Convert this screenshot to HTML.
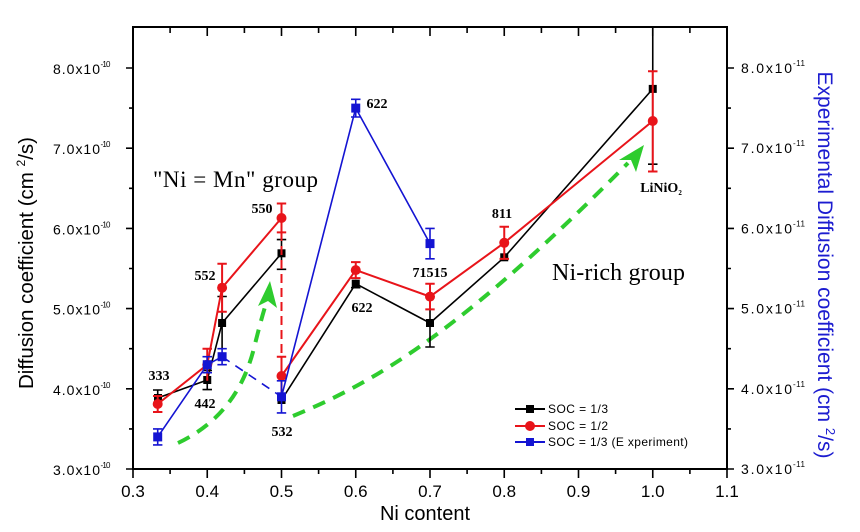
<!DOCTYPE html>
<html><head><meta charset="utf-8"><style>
html,body{margin:0;padding:0;background:#fff;}
svg{display:block;}
</style></head><body>
<svg width="860" height="532" viewBox="0 0 860 532" xmlns="http://www.w3.org/2000/svg">
<rect width="860" height="532" fill="#fff"/>
<!-- green arrows -->
<g stroke="#2ecc2e" stroke-width="4" fill="none" stroke-dasharray="13,9">
<path d="M178,443 C222,422 244,388 254,348 S265,308 267,300"/>
<path d="M293,416 C375,382 460,333 628,163"/>
</g>
<g fill="#2ecc2e">
<polygon points="270,281 258,306 268,301 277,308"/>
<polygon points="644,145 619,160 631,160 636,172"/>
</g>
<!-- frame -->
<rect x="133" y="27" width="594" height="442" fill="none" stroke="#000" stroke-width="2"/>
<g stroke="#000" stroke-width="1.6">
<!-- top ticks major -->
<path d="M133,27V36M207.25,27V36M281.5,27V36M355.75,27V36M430,27V36M504.25,27V36M578.5,27V36M652.75,27V36M727,27V36"/>
<path d="M170.1,27V33M244.4,27V33M318.6,27V33M392.9,27V33M467.1,27V33M541.4,27V33M615.6,27V33M689.9,27V33"/>
<!-- bottom -->
<path d="M133,469V478M207.25,469V478M281.5,469V478M355.75,469V478M430,469V478M504.25,469V478M578.5,469V478M652.75,469V478M727,469V478"/>
<path d="M170.1,469V474M244.4,469V474M318.6,469V474M392.9,469V474M467.1,469V474M541.4,469V474M615.6,469V474M689.9,469V474"/>
<!-- left -->
<path d="M133,469H126M133,388.8H126M133,308.6H126M133,228.4H126M133,148.2H126M133,68H126"/>
<path d="M133,428.9H129M133,348.7H129M133,268.5H129M133,188.3H129M133,108.1H129"/>
<!-- right -->
<path d="M727,469H734M727,388.8H734M727,308.6H734M727,228.4H734M727,148.2H734M727,68H734"/>
<path d="M727,428.9H731M727,348.7H731M727,268.5H731M727,188.3H731M727,108.1H731"/>
</g>
<!-- x tick labels -->
<g font-family="Liberation Sans, Arial, sans-serif" font-size="17" fill="#000" text-anchor="middle">
<text x="133" y="497">0.3</text><text x="207.25" y="497">0.4</text><text x="281.5" y="497">0.5</text>
<text x="355.75" y="497">0.6</text><text x="430" y="497">0.7</text><text x="504.25" y="497">0.8</text>
<text x="578.5" y="497">0.9</text><text x="652.75" y="497">1.0</text><text x="727" y="497">1.1</text>
</g>
<!-- left labels -->
<g font-family="Liberation Sans, Arial, sans-serif" fill="#000">
<g font-size="14">
<text x="53" y="475" textLength="47">3.0x10</text>
<text x="53" y="394.8" textLength="47">4.0x10</text>
<text x="53" y="314.6" textLength="47">5.0x10</text>
<text x="53" y="234.4" textLength="47">6.0x10</text>
<text x="53" y="154.2" textLength="47">7.0x10</text>
<text x="53" y="74" textLength="47">8.0x10</text>
</g>
<g font-size="8">
<text x="100.5" y="468" textLength="10">-10</text>
<text x="100.5" y="387.8" textLength="10">-10</text>
<text x="100.5" y="307.6" textLength="10">-10</text>
<text x="100.5" y="227.4" textLength="10">-10</text>
<text x="100.5" y="147.2" textLength="10">-10</text>
<text x="100.5" y="67" textLength="10">-10</text>
</g>
<g font-size="14">
<text x="741" y="474" textLength="51">3.0x10</text>
<text x="741" y="393.8" textLength="51">4.0x10</text>
<text x="741" y="313.6" textLength="51">5.0x10</text>
<text x="741" y="233.4" textLength="51">6.0x10</text>
<text x="741" y="153.2" textLength="51">7.0x10</text>
<text x="741" y="73" textLength="51">8.0x10</text>
</g>
<g font-size="8">
<text x="793" y="467" textLength="12">-11</text>
<text x="793" y="386.8" textLength="12">-11</text>
<text x="793" y="306.6" textLength="12">-11</text>
<text x="793" y="226.4" textLength="12">-11</text>
<text x="793" y="146.2" textLength="12">-11</text>
<text x="793" y="66" textLength="12">-11</text>
</g>
</g>
<!-- axis titles -->
<text x="425" y="520" font-family="Liberation Sans, Arial, sans-serif" font-size="20" text-anchor="middle">Ni content</text>
<text transform="translate(33,263) rotate(-90)" font-family="Liberation Sans, Arial, sans-serif" font-size="20.5" text-anchor="middle">Diffusion coefficient (cm <tspan font-size="12" dy="-8">2</tspan><tspan dy="8">/s)</tspan></text>
<text transform="translate(818,265) rotate(90)" font-family="Liberation Sans, Arial, sans-serif" font-size="21" fill="#1c1cd0" text-anchor="middle">Experimental Diffusion coefficient (cm <tspan font-size="13" dy="-8">2</tspan><tspan dy="8">/s)</tspan></text>

<!-- black series -->
<g stroke="#000" stroke-width="1.6" fill="none">
<polyline points="157.7,398 207.25,380 222.1,323 281.5,253.3"/>
<polyline points="281.5,400 355.75,283.7 430,323 504.25,257.3 652.75,88.9"/>
<path d="M157.7,390V406M153,390H162.4M207.25,370.4V389.6M202.5,370.4H212M202.5,389.6H212M222.1,296.5V349.5M217.4,296.5H226.8M281.5,239.6V269.3M276.8,239.6H286.2M276.8,269.3H286.2M355.75,279.7V287.7M351,287.7H360.5M430,299V347M425.3,347H434.7M504.25,254V260.5M652.75,27V164.2M648,164.2H657.5"/>
</g>
<g fill="#000">
<rect x="154" y="394" width="8" height="8"/><rect x="203.25" y="376" width="8" height="8"/>
<rect x="218.1" y="319" width="8" height="8"/><rect x="277.5" y="249.3" width="8" height="8"/>
<rect x="277.5" y="396" width="8" height="8"/><rect x="351.75" y="279.7" width="8" height="8"/>
<rect x="426" y="319" width="8" height="8"/><rect x="500.25" y="253.3" width="8" height="8"/>
<rect x="648.75" y="84.9" width="8" height="8"/>
</g>
<!-- red series -->
<g stroke="#e8141a" stroke-width="2" fill="none">
<polyline points="157.7,404 207.25,364.7 222.1,287.7 281.5,218"/>
<polyline points="281.5,376 355.75,270.1 430,296.6 504.25,242.8 652.75,121"/>
<path d="M281.5,218V376" stroke-dasharray="9,5"/>
<path d="M157.7,396V412M153,396H162.4M153,412H162.4M207.25,348.7V380.8M202.5,348.7H212M222.1,263.7V311.8M217.4,263.7H226.8M217.4,311.8H226.8M281.5,203.5V232.4M276.8,203.5H286.2M276.8,232.4H286.2M281.5,356.7V395.2M276.8,356.7H286.2M355.75,262.1V278.1M351,262.1H360.5M351,278.1H360.5M430,283.7V309.4M425.3,283.7H434.7M425.3,309.4H434.7M504.25,226.8V258.9M499.5,226.8H509M499.5,258.9H509M652.75,71.2V171.5M648,71.2H657.5M648,171.5H657.5"/>
</g>
<g fill="#e8141a">
<circle cx="157.7" cy="404" r="5"/><circle cx="207.25" cy="364.7" r="5"/><circle cx="222.1" cy="287.7" r="5"/>
<circle cx="281.5" cy="218" r="5"/><circle cx="281.5" cy="376" r="5"/><circle cx="355.75" cy="270.1" r="5"/>
<circle cx="430" cy="296.6" r="5"/><circle cx="504.25" cy="242.8" r="5"/><circle cx="652.75" cy="121" r="5"/>
</g>
<!-- blue series -->
<g stroke="#1414d2" stroke-width="1.6" fill="none">
<polyline points="157.7,436.9 207.25,364.7 222.1,356.7"/>
<path d="M222.1,356.7L281.5,396.8" stroke-dasharray="9,7"/>
<polyline points="281.5,396.8 355.75,108.1 430,243.6"/>
<path d="M157.7,428.9V444.9M153,428.9H162.4M153,444.9H162.4M207.25,356.7V372.7M202.5,356.7H212M202.5,372.7H212M222.1,348.7V364.7M217.4,348.7H226.8M217.4,364.7H226.8M281.5,380.8V412.9M276.8,380.8H286.2M276.8,412.9H286.2M355.75,99.3V117M351,99.3H360.5M351,117H360.5M430,228.4V258.8M425.3,228.4H434.7M425.3,258.8H434.7"/>
</g>
<g fill="#1414d2">
<rect x="153.2" y="432.4" width="9" height="9"/><rect x="202.75" y="360.2" width="9" height="9"/>
<rect x="217.6" y="352.2" width="9" height="9"/><rect x="277" y="392.3" width="9" height="9"/>
<rect x="351.25" y="103.6" width="9" height="9"/><rect x="425.5" y="239.1" width="9" height="9"/>
</g>
<!-- data labels -->
<g font-family="Liberation Serif, Times New Roman, serif" font-weight="bold" font-size="14" fill="#000" text-anchor="middle">
<text x="159" y="380">333</text>
<text x="205" y="408">442</text>
<text x="205" y="280">552</text>
<text x="262" y="213">550</text>
<text x="282" y="436">532</text>
<text x="362" y="312">622</text>
<text x="377" y="108">622</text>
<text x="430" y="277">71515</text>
<text x="502" y="218">811</text>
<text x="661" y="192">LiNiO<tspan font-size="7" dy="3">2</tspan></text>
</g>
<g font-family="Liberation Serif, Times New Roman, serif" fill="#000">
<text x="153" y="187" font-size="23" textLength="165">"Ni = Mn" group</text>
<text x="552" y="280" font-size="24" textLength="133">Ni-rich group</text>
</g>
<!-- legend -->
<g stroke-width="2" fill="none">
<path d="M515,409H545" stroke="#000"/>
<path d="M515,426H545" stroke="#e8141a"/>
<path d="M515,442H545" stroke="#1414d2"/>
</g>
<rect x="526" y="405" width="8" height="8" fill="#000"/>
<circle cx="530" cy="426" r="5" fill="#e8141a"/>
<rect x="526" y="438" width="8" height="8" fill="#1414d2"/>
<g font-family="Liberation Sans, Arial, sans-serif" font-size="12" fill="#000">
<text x="548" y="413" textLength="60">SOC = 1/3</text>
<text x="548" y="430" textLength="60">SOC = 1/2</text>
<text x="548" y="446" textLength="140">SOC = 1/3 (E xperiment)</text>
</g>
</svg>
</body></html>
